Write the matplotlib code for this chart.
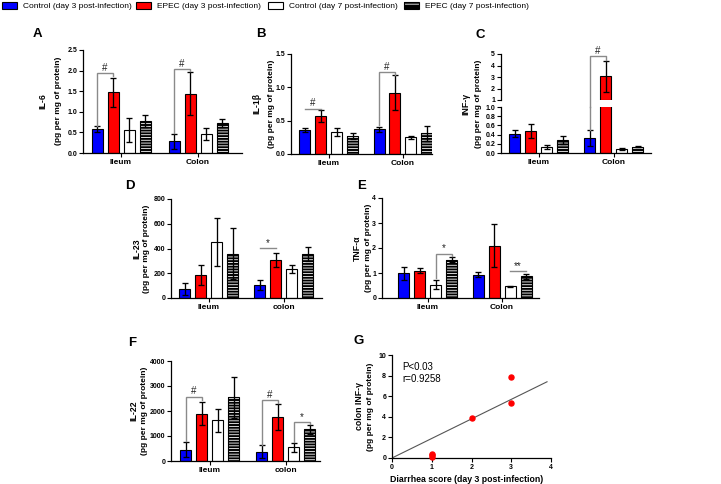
import numpy as np
import matplotlib
matplotlib.use('Agg')
import matplotlib.pyplot as plt
from matplotlib.patches import Patch
from matplotlib import font_manager

plt.rcParams['font.family'] = ['Liberation Sans', 'DejaVu Sans']
plt.rcParams['hatch.linewidth'] = 0.6

# ---- data ----
legend_labels = ['Control (day 3 post-infection)', 'EPEC (day 3 post-infection)',
                 'Control (day 7 post-infection)', 'EPEC (day 7 post-infection)']

il6_groups = ['Ileum', 'Colon']
il6_mean = [[0.58, 1.47, 0.56, 0.77], [0.28, 1.44, 0.46, 0.72]]
il6_err = [[0.08, 0.36, 0.29, 0.15], [0.18, 0.52, 0.15, 0.10]]

il1b_groups = ['Ileum', 'Colon']
il1b_mean = [[0.36, 0.57, 0.33, 0.27], [0.37, 0.92, 0.25, 0.31]]
il1b_err = [[0.03, 0.09, 0.06, 0.04], [0.04, 0.26, 0.02, 0.11]]

infg_groups = ['Ileum', 'Colon']
infg_mean = [[0.42, 0.48, 0.13, 0.28], [0.33, 3.05, 0.09, 0.14]]
infg_err = [[0.07, 0.16, 0.04, 0.08], [0.18, 1.33, 0.02, 0.02]]

il23_groups = ['Ileum', 'colon']
il23_mean = [[75, 183, 451, 357], [107, 306, 234, 354]]
il23_err = [[50, 80, 195, 205], [40, 55, 30, 55]]

tnf_groups = ['Ileum', 'Colon']
tnf_mean = [[0.99, 1.09, 0.53, 1.53], [0.93, 2.10, 0.47, 0.88]]
tnf_err = [[0.27, 0.10, 0.18, 0.10], [0.10, 0.87, 0.02, 0.10]]

il22_groups = ['Ileum', 'colon']
il22_mean = [[453, 1893, 1627, 2547], [373, 1747, 560, 1267]]
il22_err = [[300, 470, 460, 810], [260, 520, 180, 170]]

# significance: (group, bar_i, bar_j, top, left leg bottom, right leg bottom, symbol)
sig_a = [(0, 0, 1, 1.94, 0.66, 1.86, '#'), (1, 0, 1, 2.03, 0.48, 1.98, '#')]
sig_b = [(0, 0, 1, 0.68, 0.68, 0.68, '#'), (1, 0, 1, 1.23, 0.43, 1.19, '#')]
sig_d = [(1, 0, 1, 404, 404, 404, '*')]
sig_e = [(0, 2, 3, 1.77, 0.80, 1.70, '*'), (1, 2, 3, 1.07, 1.07, 1.07, '**')]
sig_f = [(0, 0, 1, 2573, 790, 2450, '#'), (1, 0, 1, 2440, 660, 2330, '#'),
         (1, 2, 3, 1547, 760, 1480, '*')]

diarrhea_score = [1, 1, 1, 2, 3, 3]
colon_infg = [0.1, 0.25, 0.42, 3.85, 5.35, 7.85]
fit_x = [0, 3.9]
fit_y = [0, 7.4]

colors = ['#0000ff', '#ff0000', 'white', 'black']
GRAY = '#8a8a8a'

W, H = 721, 484
fig = plt.figure(figsize=(W / 100, H / 100), dpi=100)


def box(x0, y0, x1, y1):
    return fig.add_axes([x0 / W, 1 - y1 / H, (x1 - x0) / W, (y1 - y0) / H])


def style(ax, left=True, bottom=True):
    for s in ['top', 'right']:
        ax.spines[s].set_visible(False)
    ax.spines['left'].set_visible(left)
    ax.spines['bottom'].set_visible(bottom)
    for s in ['left', 'bottom']:
        ax.spines[s].set_linewidth(0.9)
    ax.tick_params(axis='both', length=3, width=0.8, pad=1.2, labelsize=5)
    for lab in ax.get_yticklabels() + ax.get_xticklabels():
        lab.set_fontweight('bold')


def bar_panel(ax, groups, mean, err, gc0, gs, xl, xr, ylim, yticks, ytl=None):
    off = 16.0 / gs
    w = 11.0 / gs
    for g in range(len(groups)):
        for k in range(4):
            x = g + (k - 1.5) * off
            h = mean[g][k]
            if k == 3:
                ax.bar(x, h, w, color='black', edgecolor='white', hatch='------', linewidth=0)
                ax.bar(x, h, w, fill=False, edgecolor='black', linewidth=0.8)
            else:
                ax.bar(x, h, w, color=colors[k], edgecolor='black', linewidth=0.8)
            ax.errorbar(x, h, yerr=err[g][k], fmt='none', ecolor='black',
                        elinewidth=0.95, capsize=2.5, capthick=0.95)
    ax.set_xlim((xl - gc0) / gs, (xr - gc0) / gs)
    ax.set_ylim(*ylim)
    ax.set_yticks(yticks)
    if ytl is not None:
        ax.set_yticklabels(ytl)
    ax.set_xticks(range(len(groups)))
    ax.set_xticklabels(groups)
    style(ax)
    for lab in ax.get_xticklabels():
        lab.set_fontsize(6)
    return off


def sig(ax, items, off):
    for g, i, j, top, lb, rb, sym in items:
        x1 = g + (i - 1.5) * off
        x2 = g + (j - 1.5) * off
        ax.plot([x1, x1, x2, x2], [lb, top, top, rb], color=GRAY, lw=1.0,
                clip_on=False, solid_joinstyle='miter')
        ax.annotate(sym, ((x1 + x2) / 2, top), xytext=(0, 0.3), textcoords='offset points',
                    ha='center', va='bottom', fontsize=7, color='#222222')


def ylab(x1, x2, y, name):
    fig.text(x1 / W, 1 - y / H, name, rotation=90, ha='center', va='center',
             fontsize=6.3, fontweight='bold')
    fig.text(x2 / W, 1 - y / H, '(pg per mg of protein)', rotation=90, ha='center',
             va='center', fontsize=6, fontweight='bold')


def letter(x, y, s):
    fig.text(x / W, 1 - y / H, s, ha='center', va='center', fontsize=9.5, fontweight='bold')


# ---- A ----
ax = box(83, 50, 242, 153)
off = bar_panel(ax, il6_groups, il6_mean, il6_err, 121, 77, 83, 242, (0, 2.5),
                np.arange(0, 2.51, 0.5), ['0.0', '0.5', '1.0', '1.5', '2.0', '2.5'])
sig(ax, sig_a, off)
ylab(43, 58, 101, 'IL-6')
letter(37, 34, 'A')

# ---- B ----
ax = box(291, 54, 432, 154)
off = bar_panel(ax, il1b_groups, il1b_mean, il1b_err, 328.5, 74.5, 291, 432, (0, 1.5),
                [0, 0.5, 1.0, 1.5], ['0.0', '0.5', '1.0', '1.5'])
sig(ax, sig_b, off)
ylab(256.5, 271.5, 104, 'IL-1β')
letter(261, 34, 'B')

# ---- C (broken axis) ----
axl = box(501, 107, 651, 153)
off = bar_panel(axl, infg_groups, infg_mean, infg_err, 538.6, 75, 501, 651, (0, 1.0),
                np.arange(0, 1.01, 0.2), ['0.0', '0.2', '0.4', '0.6', '0.8', '1.0'])
axu = box(501, 54, 651, 100)
gs_c = 75
w_c = 11.0 / gs_c
for g in range(2):
    for k in range(4):
        x = g + (k - 1.5) * off
        h = infg_mean[g][k]
        if h > 1:
            axu.bar(x, h - 1, w_c, bottom=1, color=colors[k], edgecolor='black', linewidth=0.8)
            axu.errorbar(x, h, yerr=infg_err[g][k], fmt='none', ecolor='black',
                         elinewidth=0.95, capsize=2.5, capthick=0.95)
axu.set_xlim(axl.get_xlim())
axu.set_ylim(1, 5)
axu.set_yticks([1, 2, 3, 4, 5])
axu.set_xticks([])
style(axu, bottom=False)
xb1 = 1 + (0 - 1.5) * off
xb2 = 1 + (1 - 1.5) * off
axl.plot([xb1, xb1], [0.51, 1.0], color=GRAY, lw=1.0, clip_on=False)
axu.plot([xb1, xb1, xb2, xb2], [0.39, 4.83, 4.83, 4.5], color=GRAY, lw=1.0, clip_on=False)
axu.annotate('#', ((xb1 + xb2) / 2, 4.83), xytext=(0, 0.3), textcoords='offset points',
             ha='center', va='bottom', fontsize=7, color='#222222')
ylab(466, 478, 103.5, 'INF-γ')
letter(480, 35, 'C')

# ---- D ----
ax = box(171, 199, 322, 298)
off = bar_panel(ax, il23_groups, il23_mean, il23_err, 208.5, 75, 171, 322, (0, 800),
                [0, 200, 400, 600, 800])
sig(ax, sig_d, off)
ylab(136.5, 146.5, 248.5, 'IL-23')
letter(130, 186, 'D')

# ---- E ----
ax = box(382, 198, 539, 298)
off = bar_panel(ax, tnf_groups, tnf_mean, tnf_err, 427.5, 74.5, 382, 539, (0, 4),
                [0, 1, 2, 3, 4])
sig(ax, sig_e, off)
ylab(357, 368, 248, 'TNF-α')
letter(362, 186, 'E')

# ---- F ----
ax = box(171, 361, 320, 461)
off = bar_panel(ax, il22_groups, il22_mean, il22_err, 209.5, 76, 171, 320, (0, 4000),
                [0, 1000, 2000, 3000, 4000])
sig(ax, sig_f, off)
ylab(133.5, 145, 411, 'IL-22')
letter(132, 343, 'F')

# ---- G ----
ax = box(392, 355, 551, 458)
ax.plot(fit_x, fit_y, color='#555555', lw=0.8)
ax.scatter(diarrhea_score, colon_infg, s=13, color='#ff0000', zorder=3, clip_on=False)
ax.set_xlim(0, 4)
ax.set_ylim(0, 10)
ax.set_xticks([0, 1, 2, 3, 4])
ax.set_yticks([0, 2, 4, 6, 8, 10])
style(ax)
ax.text(0.25, 8.8, 'P<0.03', fontsize=7, va='center')
ax.text(0.25, 7.7, 'r=0.9258', fontsize=7, va='center')
fig.text(467 / W, 1 - 479 / H, 'Diarrhea score (day 3 post-infection)', ha='center',
         va='center', fontsize=6.3, fontweight='bold')
fig.text(359 / W, 1 - 406.5 / H, 'colon INF-γ', rotation=90, ha='center', va='center',
         fontsize=6.3, fontweight='bold')
fig.text(370 / W, 1 - 406.5 / H, '(pg per mg of protein)', rotation=90, ha='center',
         va='center', fontsize=6, fontweight='bold')
letter(359, 341, 'G')

# ---- legend ----
names = {f.name for f in font_manager.fontManager.ttflist}
if 'Liberation Sans Narrow' in names:
    leg_font = {'family': 'Liberation Sans Narrow', 'size': 7}
else:
    leg_font = {'family': 'Liberation Sans', 'size': 6}
handles = [Patch(facecolor=colors[0], edgecolor='black', linewidth=0.8),
           Patch(facecolor=colors[1], edgecolor='black', linewidth=0.8),
           Patch(facecolor=colors[2], edgecolor='black', linewidth=0.8),
           (Patch(facecolor='black', edgecolor='white', hatch='--', linewidth=0),
            Patch(fill=False, edgecolor='black', linewidth=0.8))]
leg_x = [2, 136, 268, 404]
fpx = leg_font['size'] * 100 / 72
for hnd, lab, lx in zip(handles, legend_labels, leg_x):
    fig.legend([hnd], [lab], loc='upper left', bbox_to_anchor=(lx / W, 1 - 2 / H),
               frameon=False, borderpad=0, borderaxespad=0, prop=leg_font,
               handlelength=15 / fpx, handleheight=8 / fpx, handletextpad=6 / fpx)

fig.savefig('out.png', dpi=100)
